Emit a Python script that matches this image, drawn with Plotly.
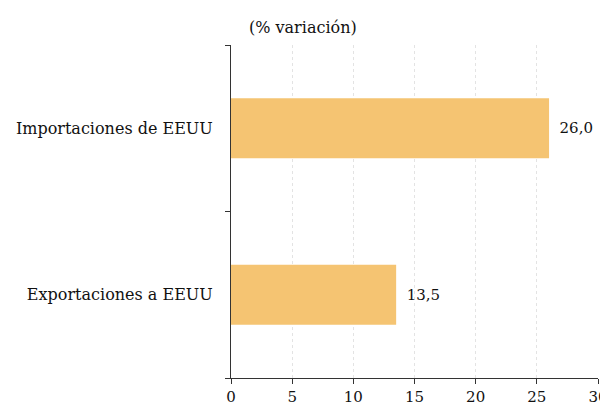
import plotly.graph_objects as go

categories = ["Exportaciones a EEUU", "Importaciones de EEUU"]
values = [13.5, 26.0]
x_ticks = [0, 5, 10, 15, 20, 25, 30]
subtitle = "(% variación)"

FONT = "DejaVu Serif"

fig = go.Figure(
    go.Bar(
        y=categories,
        x=values,
        orientation="h",
        width=0.36,
        marker=dict(color="#F5C472", line=dict(width=0)),
        texttemplate="\u2002%{x:.1f}",
        textposition="outside",
        textfont=dict(family=FONT, size=15, color="#111111"),
        cliponaxis=False,
    )
)

fig.update_layout(
    width=600,
    height=399,
    margin=dict(l=223, r=10, t=37, b=29, autoexpand=False),
    paper_bgcolor="white",
    plot_bgcolor="white",
    separators=",.",
    showlegend=False,
    font=dict(family=FONT, size=15, color="#111111"),
    annotations=[
        dict(
            text=subtitle,
            xref="paper", yref="paper",
            x=0.196, y=1.0, yshift=18,
            xanchor="center", yanchor="middle",
            showarrow=False,
            font=dict(family=FONT, size=16, color="#111111"),
        )
    ],
)

fig.update_xaxes(
    range=[0, 30],
    tickvals=x_ticks,
    automargin=False,
    showgrid=True,
    gridcolor="#e3e3e3",
    griddash="3px,3px",
    gridwidth=1,
    showline=True,
    linecolor="#333333",
    linewidth=1,
    ticks="outside",
    ticklen=5,
    tickcolor="#333333",
    zeroline=False,
    tickfont=dict(family=FONT, size=15, color="#111111"),
)

fig.update_yaxes(
    categoryorder="array",
    categoryarray=categories,
    automargin=False,
    showline=True,
    linecolor="#333333",
    linewidth=1,
    ticks="outside",
    tickson="boundaries",
    ticklen=5,
    tickcolor="#333333",
    showgrid=False,
    ticklabelstandoff=14,
    tickfont=dict(family=FONT, size=16, color="#111111"),
)

fig.write_html("out.html")
